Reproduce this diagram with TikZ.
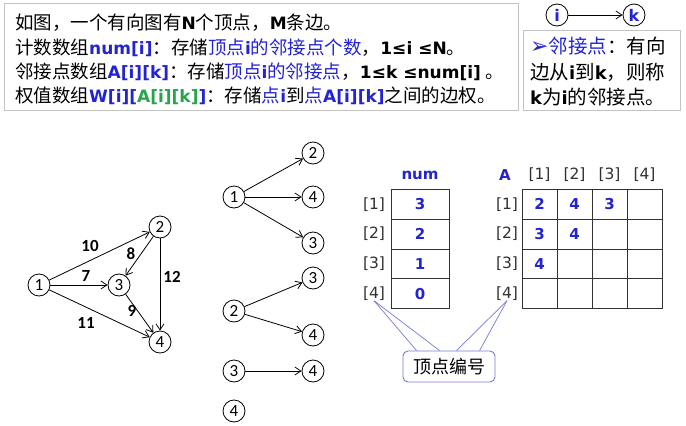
\documentclass[tikz,border=0pt]{standalone}
\usepackage{fontspec}
\setmainfont{Noto Sans CJK SC}
\newfontfamily\latb{DejaVu Sans}[Scale=0.92]
\newfontfamily\djv{DejaVu Sans}
\newfontfamily\carl{Carlito}
\usetikzlibrary{arrows.meta,calc}
\definecolor{myblue}{RGB}{35,35,210}
\definecolor{mygreen}{RGB}{40,165,75}
\definecolor{boxgray}{RGB}{195,195,195}
\definecolor{lav}{RGB}{120,120,215}
\definecolor{grid}{RGB}{50,50,50}
\newcommand\B[1]{{\latb\bfseries #1}}
\newcommand\LE{{\latb\bfseries ≤}}
\begin{document}
\begin{tikzpicture}[x=1pt,y=-1pt,
  txt/.style={anchor=base west,inner sep=0,font=\fontsize{18.5}{22}\selectfont},
  rtxt/.style={anchor=base west,inner sep=0,font=\fontsize{19.5}{22}\selectfont},
  vtx/.style={circle,draw,line width=0.8pt,minimum size=22pt,inner sep=0,font=\carl\fontsize{17}{17}\selectfont},
  wlab/.style={inner sep=0,font=\carl\bfseries\fontsize{17}{17}\selectfont},
  arr/.style={-{Straight Barb[length=6pt,width=8pt]},line width=0.8pt},
  idx/.style={inner sep=0,text=grid,font=\djv\fontsize{15.5}{15.5}\selectfont},
  val/.style={inner sep=0,text=myblue,font=\djv\bfseries\fontsize{15}{15}\selectfont},
  cell/.style={draw=grid,line width=0.8pt}]
\useasboundingbox[fill=white] (0,0) rectangle (686,426);

% top-left text box
\draw[boxgray,line width=0.8pt] (4,3) rectangle (518,110);
\node[txt] (t1) at (15,29) {如图，一个有向图有\B{N}个顶点，\B{M}条边。};
\node[txt] (t2) at (15,54) {计数数组\textcolor{myblue}{\B{num[i]}}：存储\textcolor{myblue}{顶点\B{i}的邻接点个数}，\B{1\LE i \LE N}。};
\node[txt] (t3) at (15,78) {邻接点数组\textcolor{myblue}{\B{A[i][k]}}：存储\textcolor{myblue}{顶点\B{i}的邻接点}，\B{1\LE k \LE num[i]} 。};
\node[txt] (t4) at (15,102) {权值数组\textcolor{myblue}{\B{W[i][}}\textcolor{mygreen}{\B{A[i][k]}}\textcolor{myblue}{\B{]}}：存储\textcolor{myblue}{点\B{i}}到\textcolor{myblue}{点\B{A[i][k]}}之间的边权。};

% i -> k
\node[vtx,text=myblue,font=\djv\bfseries\fontsize{16}{16}\selectfont] (vi) at (557,15) {i};
\node[vtx,text=myblue,font=\djv\bfseries\fontsize{16}{16}\selectfont] (vk) at (634,15) {k};
\draw[arr] (vi) -- (vk);

% right text box
\draw[boxgray,line width=0.8pt] (523,30) rectangle (680,110);
\node[rtxt] (r1) at (530,53) {\textcolor{myblue}{{\djv\fontsize{22}{22}\selectfont ➢}邻接点}：有向};
\node[rtxt] (r2) at (530,79) {边从\B{i}到\B{k}，则称};
\node[rtxt] (r3) at (530,104) {\B{k}为\B{i}的邻接点。};

% weighted graph
\node[vtx] (a1) at (39,285) {1};
\node[vtx] (a2) at (160,227) {2};
\node[vtx] (a3) at (119,285) {3};
\node[vtx] (a4) at (160,342) {4};
\draw[arr] (a1) -- (a2);
\draw[arr] (a1) -- (a3);
\draw[arr] (a1) -- (a4);
\draw[arr] (a2) -- (a3);
\draw[arr] (a2) -- (a4);
\draw[arr] (a3) -- (a4);
\node[wlab] (w10) at (90,246) {10};
\node[wlab] (w8) at (131,254) {8};
\node[wlab] (w7) at (86,276) {7};
\node[wlab] (w12) at (172,277) {12};
\node[wlab] (w9) at (132,311) {9};
\node[wlab] (w11) at (86,323) {11};

% adjacency lists
\node[vtx] (b1) at (234,197) {1};
\node[vtx] (b12) at (313,153) {2};
\node[vtx] (b14) at (313,197) {4};
\node[vtx] (b13) at (313,243) {3};
\draw[arr] (b1) -- (b12);
\draw[arr] (b1) -- (b14);
\draw[arr] (b1) -- (b13);
\node[vtx] (b2) at (234,311) {2};
\node[vtx] (b23) at (313,278) {3};
\node[vtx] (b24) at (313,335) {4};
\draw[arr] (b2) -- (b23);
\draw[arr] (b2) -- (b24);
\node[vtx] (b3) at (234,371) {3};
\node[vtx] (b34) at (313,371) {4};
\draw[arr] (b3) -- (b34);
\node[vtx] (b4) at (234,411) {4};

% num table
\foreach \r in {0,...,3}
  \draw[cell] (391,{189.5+\r*29.75}) rectangle (449,{189.5+(\r+1)*29.75});
\node[val] (numh) at (420,175) {num};
\node[idx] (l1) at (374,204.4) {[1]};
\node[idx] (l2) at (374,234.1) {[2]};
\node[idx] (l3) at (374,263.9) {[3]};
\node[idx] (l4) at (374,293.6) {[4]};
\node[val] (n1) at (420,204.4) {3};
\node[val] (n2) at (420,234.1) {2};
\node[val] (n3) at (420,263.9) {1};
\node[val] (n4) at (420,293.6) {0};

% A table
\foreach \r in {0,...,3}
  \foreach \c in {0,...,3}
    \draw[cell] ({522+\c*35},{189.5+\r*29.75}) rectangle ({557+\c*35},{189.5+(\r+1)*29.75});
\node[val] (Ah) at (505,175) {A};
\node[idx] (c1) at (539.5,175) {[1]};
\node[idx] (c2) at (574.5,175) {[2]};
\node[idx] (c3) at (609.5,175) {[3]};
\node[idx] (c4) at (644.5,175) {[4]};
\node[idx] (m1) at (507,204.4) {[1]};
\node[idx] (m2) at (507,234.1) {[2]};
\node[idx] (m3) at (507,263.9) {[3]};
\node[idx] (m4) at (507,293.6) {[4]};
\node[val] (a11) at (539.5,204.4) {2};
\node[val] (a12) at (574.5,204.4) {4};
\node[val] (a13) at (609.5,204.4) {3};
\node[val] (a21) at (539.5,234.1) {3};
\node[val] (a22) at (574.5,234.1) {4};
\node[val] (a31) at (539.5,263.9) {4};

% vertex number callout
\node[draw=lav,line width=0.9pt,rounded corners=5pt,minimum width=92pt,minimum height=31pt,inner sep=0,font=\fontsize{18}{18}\selectfont] (vb) at (449,366.5) {顶点编号};
\draw[lav,line width=0.7pt] (l4.south) -- ($(vb.north west)+(14,0)$);
\draw[lav,line width=0.7pt] (l4.south) -- ($(vb.north west)+(37,0)$);
\draw[lav,line width=0.7pt] (m4.south) -- ($(vb.north west)+(54,0)$);
\draw[lav,line width=0.7pt] (m4.south) -- ($(vb.north west)+(77,0)$);
\end{tikzpicture}
\end{document}
